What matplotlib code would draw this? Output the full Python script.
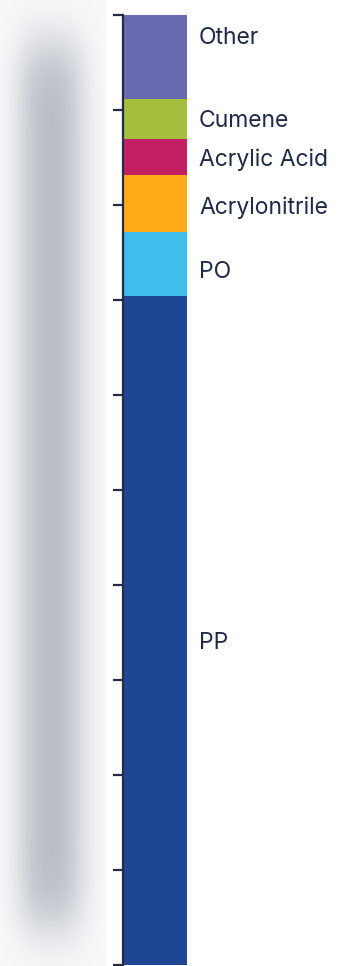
import math
import numpy as np
import matplotlib
matplotlib.use("Agg")
import matplotlib.pyplot as plt

# Share of output by product (%), stacked bottom to top
products = ["PP", "PO", "Acrylonitrile", "Acrylic Acid", "Cumene", "Other"]
shares = [70.4, 6.8, 6.0, 3.8, 4.2, 8.8]
colors = ["#1E4695", "#3FBEEC", "#FFAA17", "#C41F62", "#A4BF3E", "#6A6AB0"]
# where each name sits on the value axis
label_pos = [33.9, 72.9, 79.7, 84.8, 88.8, 97.6]

W, H = 346, 966
fig = plt.figure(figsize=(W / 100, H / 100), dpi=100)
fig.patch.set_facecolor("white")

# soft grey column on the left
bg = fig.add_axes([0, 0, 106 / W, 1])
bg.set_axis_off()
erf = np.vectorize(math.erf)
xs = np.arange(106) + 0.5
ys = np.arange(H) + 0.5
sx, sy = 14.0, 28.0
fx = 0.5 * (erf((xs - 22) / (sx * math.sqrt(2))) - erf((xs - 80) / (sx * math.sqrt(2))))
fy = 0.5 * (erf((ys - 45) / (sy * math.sqrt(2))) - erf((ys - 925) / (sy * math.sqrt(2))))
mask = np.outer(fy, fx)
base = np.array([248, 249, 250]) / 255
grey = np.array([184, 189, 197]) / 255
img = base + mask[..., None] * (grey - base)
bg.imshow(img, aspect="auto", extent=[0, 1, 0, 1], origin="upper")
bg.set_xlim(0, 1)
bg.set_ylim(0, 1)

ax = fig.add_axes([123 / W, 1 - 965 / H, (W - 123) / W, 950 / H])
ax.set_facecolor("none")

bottom = 0.0
for name, val, col, ly in zip(products, shares, colors, label_pos):
    ax.bar(0, val, width=64 / 223, bottom=bottom, color=col, align="edge",
           linewidth=0)
    ax.text(76 / 223, ly, name, va="center", ha="left", fontsize=16.5,
            family="Inter", color="#1F2A47")
    bottom += val

ax.set_xlim(0, 1)
ax.set_ylim(0, 100)
ax.set_yticks(np.arange(0, 101, 10))
ax.set_yticklabels([])
ax.set_xticks([])
for side in ["top", "right", "bottom"]:
    ax.spines[side].set_visible(False)
ax.spines["left"].set_color("#262B45")
ax.spines["left"].set_linewidth(1.6)
ax.tick_params(axis="y", length=7, width=1.6, color="#262B45", direction="out")

fig.savefig("out.png", dpi=100)
